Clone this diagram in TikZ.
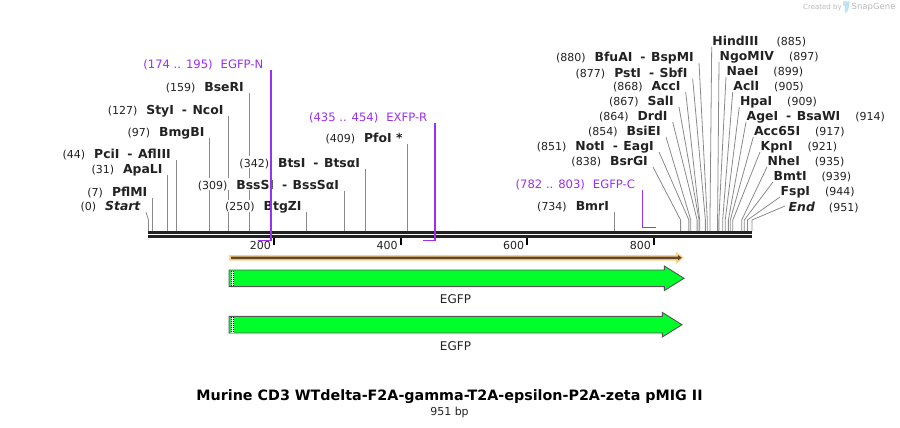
\documentclass[tikz,border=0pt]{standalone}
\usepackage{fontspec}
\setmainfont{DejaVu Sans}
\usetikzlibrary{positioning,calc}
\definecolor{snapink}{HTML}{222222}
\definecolor{snapgray}{HTML}{8A8A8A}
\definecolor{snappurple}{HTML}{9B30F0}
\definecolor{snapgreen}{HTML}{00FF2A}
\definecolor{snapedge}{HTML}{555555}
\definecolor{snaporange}{HTML}{FDD08A}
\definecolor{snapbrown}{HTML}{5A4A30}
\definecolor{snapmark}{HTML}{B9B9B9}
\definecolor{snapblue}{HTML}{BFE3F5}
\pgfdeclarelayer{lines}
\pgfsetlayers{lines,main}
\newcommand{\numfont}{\fontsize{11}{13}\selectfont}
\newcommand{\enzfont}{\fontsize{12.4}{13}\selectfont\bfseries}
\newcommand{\enzpair}[2]{{\enzfont #1}\hspace{8pt}-\hspace{5.5pt}{\enzfont #2}}

\begin{document}
\begin{tikzpicture}[x=1pt,y=-1pt,
  sitelbl/.style={font=\numfont, text=snapink, fill=white, inner ysep=0pt, text height=11pt, text depth=1pt},
  leftsite/.style={sitelbl, anchor=south east, inner xsep=5pt},
  rightsite/.style={sitelbl, anchor=south west, inner xsep=0.5pt},
  primerlbl/.style={leftsite, inner xsep=7.5pt, text=snappurple, font=\fontsize{11.6}{13}\selectfont},
  siteline/.style={snapgray, line width=0.8pt},
  primerline/.style={snappurple, line width=1.1pt},
  ticklbl/.style={font=\numfont, text=snapink, anchor=east, inner sep=0pt},
  cdsarrow/.style={draw=snapedge, fill=snapgreen, line width=0.9pt, line join=miter},
  cdsname/.style={font=\fontsize{12}{14}\selectfont, text=snapink, inner sep=0pt},
]
\useasboundingbox (0,0) rectangle (900,428);
% backbone: 0 at x = 148, 951 at x = 752
\fill[snapink] (148,231) rectangle (752,234);
\fill[snapink] (148,235) rectangle (752,238);
\foreach \v/\x in {200/274,400/400.7,600/527.4,800/654} {
  \node[ticklbl] (tick\v) at (\x-3,245) {\v};
  \draw[black, line width=2pt] (\x,238) -- (\x,245);
}

% sites with a straight line
\foreach \p/\ty/\lab in {%
  7/198/{\textbf{PflMI}},
  31/175/{\textbf{ApaLI}},
  44/160/{\enzpair{PciI}{AflIII}},
  97/138/{\textbf{BmgBI}},
  127/115.5/{\enzpair{StyI}{NcoI}},
  159/93/{\textbf{BseRI}},
  250/212/{\textbf{BtgZI}},
  309/190.5/{\enzpair{BssSI}{BssSαI}},
  342/168.5/{\enzpair{BtsI}{BtsαI}},
  409/144/{\textbf{PfoI *}},
  734/212/{\textbf{BmrI}}%
} {
  \pgfmathsetmacro{\x}{148 + 0.635*\p}
  \node[leftsite] (s\p) at (\x,\ty) {(\p)\hspace{9pt}{\enzfont\lab}};
  \coordinate (b\p) at (\x,231);
  \begin{pgfonlayer}{lines}
    \draw[siteline] (s\p.south east) -- (b\p);
  \end{pgfonlayer}
}

% sites fanned out on the left
\foreach \p/\tx/\ty/\lab in {%
  0/146/212/{\textit{Start}},
  838/653/167/{\textbf{BsrGI}},
  851/659/152/{\enzpair{NotI}{EagI}},
  854/666/137/{\textbf{BsiEI}},
  864/672.7/122/{\textbf{DrdI}},
  867/679/107/{\textbf{SalI}},
  868/685.7/92/{\textbf{AccI}},
  877/692.7/79/{\enzpair{PstI}{SbfI}},
  880/699/63/{\enzpair{BfuAI}{BspMI}}%
} {
  \pgfmathsetmacro{\x}{148.5 + 0.635*\p}
  \node[leftsite] (s\p) at (\tx,\ty) {(\p)\hspace{9pt}{\enzfont\lab}};
  \coordinate (k\p) at (\x,220);
  \coordinate (b\p) at (\x,231);
  \begin{pgfonlayer}{lines}
    \draw[siteline] (s\p.south east) -- (k\p) -- (b\p);
  \end{pgfonlayer}
}

% sites fanned out on the right
\foreach \p/\tx/\ty/\lab in {%
  885/711.7/47/{\textbf{HindIII}\hspace{3pt}},
  897/719/62/{\textbf{NgoMIV}},
  899/726/77/{\textbf{NaeI}},
  905/732.7/92/{\textbf{AclI}},
  909/739.3/107/{\textbf{HpaI}},
  914/746/122/{\enzpair{AgeI}{BsaWI}},
  917/753.3/137/{\textbf{Acc65I}},
  921/760/152/{\textbf{KpnI}},
  935/767/167/{\textbf{NheI}},
  939/773/182/{\textbf{BmtI}},
  944/780/197/{\textbf{FspI}}%
} {
  \pgfmathsetmacro{\x}{148 + 0.635*\p}
  \node[rightsite] (s\p) at (\tx,\ty) {{\enzfont\lab}\hspace{15pt}(\p)};
  \coordinate (k\p) at (\x,220);
  \coordinate (b\p) at (\x,231);
  \begin{pgfonlayer}{lines}
    \draw[siteline] (s\p.south west) -- (k\p) -- (b\p);
  \end{pgfonlayer}
}
\node[sitelbl, anchor=west, inner xsep=3.5pt] (s951) at (785,206) {{\enzfont\textit{End}}\hspace{14pt}(951)};
\coordinate (k951) at (751.9,220);
\coordinate (b951) at (751.9,231);
\begin{pgfonlayer}{lines}
  \draw[siteline] (s951.west) -- (k951) -- (b951);
\end{pgfonlayer}

% primers
\node[primerlbl] (egfpn) at (271,70) {(174 .. 195)\hspace{8pt}EGFP-N};
\coordinate (egfpnk) at (271,240.5);
\coordinate (egfpne) at (258,240.5);
\draw[primerline] (egfpn.south east) -- (egfpnk) -- (egfpne);
\node[primerlbl] (exfpr) at (435,123) {(435 .. 454)\hspace{8pt}EXFP-R};
\coordinate (exfprk) at (435,240.5);
\coordinate (exfpre) at (423,240.5);
\draw[primerline] (exfpr.south east) -- (exfprk) -- (exfpre);
\node[primerlbl] (egfpc) at (642.7,190) {(782 .. 803)\hspace{8pt}EGFP-C};
\coordinate (egfpck) at (642.7,227.7);
\coordinate (egfpce) at (656,227.7);
\draw[primerline] (egfpc.south east) -- (egfpck) -- (egfpce);

% features
\fill[snaporange] (229,255) -- (676,255) -- (676,252) -- (684,257.7) -- (676,264) -- (676,260.5) -- (229,260.5) -- cycle;
\fill[snapbrown] (231,256.6) -- (678,256.6) -- (678,255) -- (681.7,257.7) -- (678,260.4) -- (678,259) -- (231,259) -- cycle;
\foreach \n/\y/\hx/\tx in {a/278.3/664.3/684,b/324.7/662.3/682} {
  \draw[cdsarrow] (229,\y-8.3) -- (\hx,\y-8.3) -- (\hx,\y-12.3) -- (\tx,\y) -- (\hx,\y+12.3) -- (\hx,\y+8.3) -- (229,\y+8.3) -- cycle;
  \draw[white, line width=2.6pt] (232.5,\y-7.8) -- (232.5,\y+7.8);
  \draw[black, line width=1pt, dash pattern=on 1pt off 1pt] (231.5,\y-7.8) -- (231.5,\y+7.8);
  \draw[black, line width=1pt, dash pattern=on 1pt off 1pt] (233.5,\y-7.8) -- (233.5,\y+7.8);
}
\node[cdsname] (cdsa) at (455.5,299.5) {EGFP};
\node[cdsname] (cdsb) at (455.5,346.5) {EGFP};

% title
\node[font=\fontsize{14.3}{16}\selectfont\bfseries, text=black, inner sep=0pt] (title) at (449.5,397) {Murine CD3 WTdelta-F2A-gamma-T2A-epsilon-P2A-zeta pMIG II};
\node[font=\numfont, text=snapink, inner sep=0pt] (size) at (449.5,412) {951 bp};

% mark
\node[font=\fontsize{7}{8}\selectfont, text=snapmark, anchor=west, inner sep=0pt] (made) at (803,7.5) {Created by};
\fill[snapblue] (843,1.5) -- (849.5,1.5) .. controls (849.5,7) and (848,13) .. (845,13) -- (845,7) -- (843,5) -- cycle;
\node[font=\fontsize{8.5}{9}\selectfont, text=snapmark, anchor=west, inner sep=0pt] (brand) at (851.5,7.5) {SnapGene};
\end{tikzpicture}
\end{document}
